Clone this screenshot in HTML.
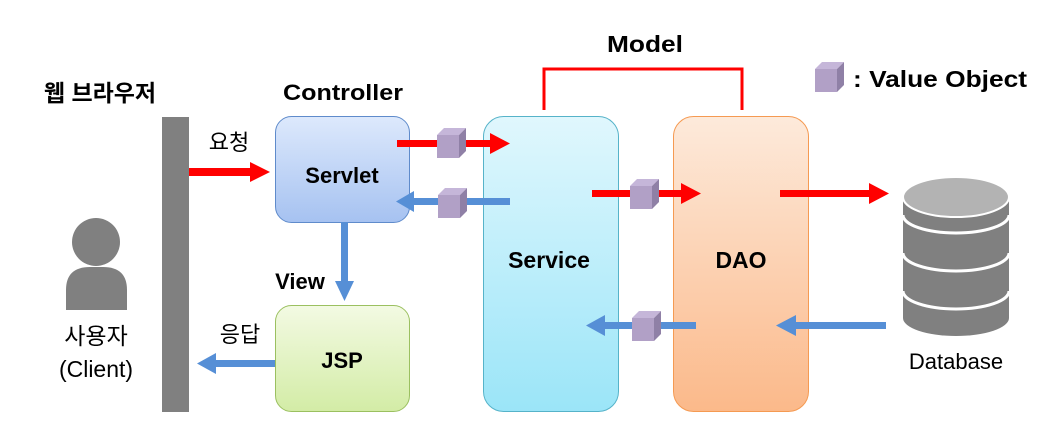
<!DOCTYPE html>
<html><head><meta charset="utf-8"><style>
html,body{margin:0;padding:0;background:#fff;}
svg{display:block;}
text{font-family:"Liberation Sans","Noto Sans CJK KR",sans-serif;}
.b{font-weight:bold;}
</style></head><body>
<svg width="1064" height="445" viewBox="0 0 1064 445" xmlns="http://www.w3.org/2000/svg">
<defs>
<linearGradient id="gs" x1="0" y1="0" x2="0" y2="1"><stop offset="0" stop-color="#dde9fc"/><stop offset="1" stop-color="#a6c2f1"/></linearGradient>
<linearGradient id="gj" x1="0" y1="0" x2="0" y2="1"><stop offset="0" stop-color="#f3fae3"/><stop offset="1" stop-color="#d3eca6"/></linearGradient>
<linearGradient id="gv" x1="0" y1="0" x2="0" y2="1"><stop offset="0" stop-color="#e0f7fd"/><stop offset="1" stop-color="#9be5f8"/></linearGradient>
<linearGradient id="gd" x1="0" y1="0" x2="0" y2="1"><stop offset="0" stop-color="#fdeadb"/><stop offset="1" stop-color="#fbb98a"/></linearGradient>
<g id="cube">
<rect x="0" y="7" width="22" height="23" fill="#b1a0c6"/>
<polygon points="0,7 7,0 29,0 22,7" fill="#c5b6d9"/>
<polygon points="22,7 29,0 29,23 22,30" fill="#8f80a6"/>
</g>
</defs>

<!-- left -->
<text x="100" y="101" font-size="23" class="b" text-anchor="middle">웹 브라우저</text>
<rect x="162" y="117" width="27" height="295" fill="#808080"/>
<circle cx="96" cy="242" r="24" fill="#808080"/>
<path d="M66 310 V290 Q66 267 90 267 H103 Q127 267 127 290 V310 Z" fill="#808080"/>
<text x="96" y="344" font-size="23" text-anchor="middle">사용자</text>
<text x="96" y="377" font-size="23" text-anchor="middle">(Client)</text>

<text x="283" y="100" font-size="22" class="b" textLength="120" lengthAdjust="spacingAndGlyphs">Controller</text>
<text x="229" y="150" font-size="22" text-anchor="middle">요청</text>
<rect x="189" y="168" width="62" height="8" fill="#ff0000"/>
<polygon points="250,162 270,172 250,182" fill="#ff0000"/>

<rect x="275.5" y="116.5" width="134" height="106" rx="16" fill="url(#gs)" stroke="#5f8bcb"/>
<text x="342" y="183" font-size="22" class="b" text-anchor="middle">Servlet</text>

<rect x="341" y="222" width="7" height="60" fill="#568fd6"/>
<polygon points="335,281 354,281 344.5,301" fill="#568fd6"/>
<text x="300" y="289" font-size="22" class="b" text-anchor="middle">View</text>

<rect x="275.5" y="305.5" width="134" height="106" rx="16" fill="url(#gj)" stroke="#9bc060"/>
<text x="342" y="368" font-size="22" class="b" text-anchor="middle">JSP</text>

<text x="240" y="342" font-size="22" text-anchor="middle">응답</text>
<rect x="215" y="360" width="60" height="7" fill="#568fd6"/>
<polygon points="216,353 197,363.5 216,374" fill="#568fd6"/>

<!-- model -->
<text x="607" y="52" font-size="23" class="b" textLength="76" lengthAdjust="spacingAndGlyphs">Model</text>
<polyline points="544,110 544,69 742,69 742,110" fill="none" stroke="#ff0000" stroke-width="3"/>

<rect x="483.5" y="116.5" width="135" height="295" rx="20" fill="url(#gv)" stroke="#56b3c9"/>
<text x="549" y="268" font-size="23" class="b" text-anchor="middle">Service</text>
<rect x="673.5" y="116.5" width="135" height="295" rx="20" fill="url(#gd)" stroke="#f59a52"/>
<text x="741" y="268" font-size="23" class="b" text-anchor="middle">DAO</text>

<!-- arrows -->
<rect x="397" y="140" width="95" height="7" fill="#ff0000"/>
<polygon points="490,133 510,143.5 490,154" fill="#ff0000"/>
<use href="#cube" x="437" y="128"/>

<rect x="413" y="198" width="97" height="7" fill="#568fd6"/>
<polygon points="414,191 396,201.5 414,212" fill="#568fd6"/>
<use href="#cube" x="438" y="188"/>

<rect x="592" y="190" width="90" height="7" fill="#ff0000"/>
<polygon points="681,183 701,193.5 681,204" fill="#ff0000"/>
<use href="#cube" x="630" y="179"/>

<rect x="780" y="190" width="90" height="7" fill="#ff0000"/>
<polygon points="869,183 889,193.5 869,204" fill="#ff0000"/>

<rect x="603" y="322" width="93" height="7" fill="#568fd6"/>
<polygon points="605,315 586,325.5 605,336" fill="#568fd6"/>
<use href="#cube" x="632" y="311"/>

<rect x="795" y="322" width="91" height="7" fill="#568fd6"/>
<polygon points="796,315 776,325.5 796,336" fill="#568fd6"/>

<!-- legend -->
<use href="#cube" x="815" y="62"/>
<text x="853" y="87" font-size="23" class="b" textLength="174" lengthAdjust="spacingAndGlyphs">: Value Object</text>

<!-- database -->
<path d="M903 198 V318 A53 18 0 0 0 1009 318 V198 Z" fill="#808080"/>
<path d="M903 215 A53 18 0 0 0 1009 215" fill="none" stroke="#fff" stroke-width="3"/>
<path d="M903 253 A53 18 0 0 0 1009 253" fill="none" stroke="#fff" stroke-width="3"/>
<path d="M903 291 A53 18 0 0 0 1009 291" fill="none" stroke="#fff" stroke-width="3"/>
<ellipse cx="956" cy="197" rx="53" ry="20" fill="#b3b3b3" stroke="#fff" stroke-width="2"/>
<text x="956" y="369" font-size="22" text-anchor="middle">Database</text>
</svg>
</body></html>
